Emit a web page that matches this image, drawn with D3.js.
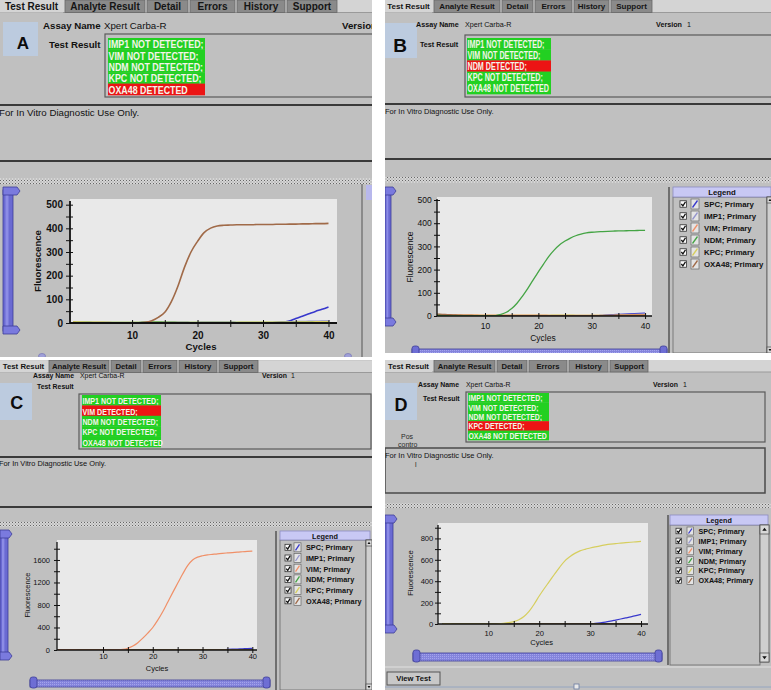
<!DOCTYPE html>
<html><head><meta charset="utf-8">
<script src="https://cdn.jsdelivr.net/npm/d3@7"></script>
<style>
body{margin:0;background:#fff}
svg{display:block}
text{font-family:"Liberation Sans",Arial,sans-serif}
</style>
</head><body>
<svg id="c" width="771" height="690"></svg>
<script>
// ---------------- DATA ----------------
const cycles = [1,2,3,4,5,6,7,8,9,10,11,12,13,14,15,16,17,18,19,20,21,22,23,24,25,26,27,28,29,30,31,32,33,34,35,36,37,38,39,40];
const tabNames = ["Test Result","Analyte Result","Detail","Errors","History","Support"];
const channels = ["SPC","IMP1","VIM","NDM","KPC","OXA48"];
const legendLabels = ["SPC; Primary","IMP1; Primary","VIM; Primary","NDM; Primary","KPC; Primary","OXA48; Primary"];
const panelLetters = ["A","B","C","D"];
const assayName = "Xpert Carba-R";
const versionText = "1";
const ivdText = "For In Vitro Diagnostic Use Only.";
const noteD = ["Pos","contro","l"];

const resultsA = ["IMP1 NOT DETECTED;","VIM NOT DETECTED;","NDM NOT DETECTED;","KPC NOT DETECTED;","OXA48 DETECTED"];
const resultsB = ["IMP1 NOT DETECTED;","VIM NOT DETECTED;","NDM DETECTED;","KPC NOT DETECTED;","OXA48 NOT DETECTED"];
const resultsC = ["IMP1 NOT DETECTED;","VIM DETECTED;","NDM NOT DETECTED;","KPC NOT DETECTED;","OXA48 NOT DETECTED"];
const resultsD = ["IMP1 NOT DETECTED;","VIM NOT DETECTED;","NDM NOT DETECTED;","KPC DETECTED;","OXA48 NOT DETECTED"];

const yTicksAB = [0,100,200,300,400,500];
const yMinorAB = [50,150,250,350,450];
const yTicksC = [0,400,800,1200,1600];
const yMinorC = [200,600,1000,1400,1800];
const yTicksD = [0,200,400,600,800];
const yMinorD = [100,300,500,700,900];
const xTicks = [10,20,30,40];
const xMinor = [15,25,35];

// Panel A (OXA48 positive)
const spcA   = [1,1,0,0,1,1,0,0,1,1, 1,2,2,2,2,2,2,2,1,1, 2,2,2,2,2,1,1,1,1,1, 1,2,4,8,19,29,39,49,58,68];
const imp1A  = [2,2,1,1,1,1,1,1,1,1, 1,1,1,1,1,1,1,1,1,1, 1,1,1,1,1,1,1,1,1,1, 1,2,4,5,6,6,7,7,8,8];
const vimA   = [3,2,2,2,2,2,1,1,1,1, 1,1,1,1,1,1,1,1,1,1, 1,1,1,1,1,1,1,1,1,1, 1,1,1,1,1,1,1,1,1,1];
const ndmA   = [4,3,3,2,2,2,2,2,2,2, 2,3,4,4,3,3,2,2,2,2, 2,2,2,2,2,2,2,2,2,2, 2,2,2,2,2,3,3,4,4,4];
const kpcA   = [5,4,3,3,3,2,2,2,2,2, 2,2,2,2,2,2,2,2,2,2, 2,2,2,2,2,2,3,3,3,3, 3,3,3,3,3,4,4,5,5,5];
const oxa48A = [2,1,1,0,0,0,0,0,0,0, 1,3,10,24,45,90,155,235,300,345, 382,401,410,413,414,415,415,415,416,416, 416,417,417,418,418,419,419,420,420,421];

// Panel B (NDM positive)
const spcB   = [3,3,3,2,2,2,2,1,1,1, 1,1,1,1,1,1,1,1,1,1, 1,1,1,1,1,1,1,1,1,1, 1,3,5,6,7,8,9,10,11,12];
const imp1B  = [2,2,2,2,2,2,1,1,1,1, 1,1,1,1,1,1,1,1,1,1, 1,1,1,1,1,1,1,1,1,1, 1,1,2,3,4,5,6,7,8,9];
const vimB   = [6,6,6,5,5,5,5,5,4,4, 4,4,4,4,4,4,4,4,4,4, 4,3,3,3,3,3,3,3,3,3, 3,3,3,3,4,5,5,6,6,6];
const ndmB   = [3,2,1,0,0,0,0,0,0,0, 0,2,7,16,32,55,85,118,155,190, 225,258,285,307,323,336,346,353,358,361, 363,364,365,366,367,367,368,368,369,369];
const kpcB   = [4,4,3,3,3,3,3,3,3,3, 3,3,3,3,3,3,3,3,3,3, 3,3,4,4,4,4,3,3,3,3, 3,3,3,3,3,3,3,3,3,3];
const oxa48B = [8,7,6,5,4,3,3,2,2,2, 2,2,2,2,2,2,2,2,2,2, 2,2,2,2,2,2,2,2,2,2, 2,2,2,2,3,3,3,3,3,3];

// Panel C (VIM positive)
const spcC   = [2,2,2,2,2,2,2,2,2,2, 2,2,2,2,2,2,2,2,2,2, 2,2,2,2,2,2,2,2,2,2, 2,3,4,6,10,14,18,22,26,30];
const imp1C  = [1,1,1,1,1,1,1,1,1,1, 1,1,1,1,1,1,1,1,1,1, 1,1,1,1,1,1,1,1,1,1, 1,1,1,1,2,2,3,3,4,4];
const vimC   = [2,1,1,1,0,0,0,0,0,0, 0,1,3,10,32,70,130,210,300,400, 530,680,850,1020,1185,1350,1500,1600,1650,1675, 1690,1700,1710,1718,1725,1732,1740,1746,1752,1758];
const ndmC   = [3,3,3,2,2,2,2,2,2,2, 2,2,2,2,2,2,2,2,2,2, 2,2,2,2,2,2,2,2,2,2, 2,2,2,2,2,2,2,2,2,2];
const kpcC   = [4,4,4,3,3,3,3,3,3,3, 3,3,3,3,3,3,3,3,3,3, 3,3,3,3,3,3,3,3,3,3, 3,3,3,3,3,3,3,3,3,3];
const oxa48C = [5,5,4,4,4,4,4,4,4,4, 4,4,4,4,4,4,4,4,4,4, 4,4,4,4,4,4,4,4,4,4, 4,4,4,4,4,4,4,4,4,4];

// Panel D (KPC positive)
const spcD   = [0,0,0,0,0,0,0,0,0,0, 0,0,0,0,0,0,0,0,0,0, 0,0,0,0,0,0,0,0,0,0, 5,11,18,27,37,47,57,67,78,90];
const imp1D  = [1,1,1,1,1,1,1,1,1,1, 1,1,1,1,1,1,1,1,1,1, 1,1,1,1,1,1,1,1,1,1, 1,1,1,1,1,1,1,1,1,1];
const vimD   = [2,2,1,1,1,1,1,1,1,1, 1,1,1,1,1,1,1,1,1,1, 1,1,1,1,1,1,1,1,1,1, 1,1,1,1,1,1,1,1,1,1];
const ndmD   = [1,1,1,1,1,1,1,1,1,1, 1,1,1,1,1,1,1,1,1,1, 1,1,1,1,1,1,1,1,1,1, 1,1,1,1,1,1,1,1,1,1];
const kpcD   = [1,1,0,0,0,0,0,0,0,0, 0,2,6,12,22,40,70,118,185,262, 332,398,465,530,588,628,660,683,698,710, 721,731,739,746,752,756,760,764,768,772];
const oxa48D = [2,2,2,1,1,1,1,1,1,1, 1,1,1,1,1,1,1,1,1,1, 1,1,1,1,1,1,1,1,1,1, 1,1,1,1,1,1,1,1,1,1];

// ---------------- STYLE / LAYOUT ----------------
const chColors = ["#3838cc","#9494cc","#f09068","#44a444","#d6ce5e","#a06a48"];
const GRAY = "#c0c0c0";

const LAYOUT = [
 { x0:0, y0:0, w:372, h:357,
   tabY:0, tabH:12.5, tabFs:10, tabs:[[0,63],[65,145],[147,188],[190,235],[237,285],[287,337]],
   box:[3,22,35,34], letterXY:[23,43], letterFs:17,
   fs:9.7, assayXY:[43,25], xpertX:104, verX:342, verNumX:388, testXY:[49,44],
   resBox:[105,34,300,63], rows:[108,38,97,11.4], rowFs:11, rowTW:95,
   seps:[105,161], ivdXY:[-1,112], ivdFs:9.7, ivdBox:null, split:[178,184],
   vsl:[3,10,187,334,7],
   chart:{x:70,y:199,w:267,h:124,xd:[0.52,41.3],yd:[0,524],fs:10,bold:true,lw:1.6,ts:4,tpx:4.8,tpy:3,axisW:1.8,labFs:9.6,ylab:[37,261],xlab:[201,346]},
   legend:null, hsl:null },
 { x0:385, y0:0, w:386, h:353,
   tabY:0, tabH:12.5, tabFs:8, tabs:[[385,432],[434,500],[502,533],[535,572],[574,609],[611,652]],
   box:[385,23,32,35], letterXY:[400,45], letterFs:19,
   fs:7.2, assayXY:[416,24.5], xpertX:465, verX:656, verNumX:687, testXY:[420,44.3],
   resBox:[465,35,320,62], rows:[467,38,84,11.2], rowFs:10, rowTW:77,
   seps:[104,159], ivdXY:[385,111], ivdFs:7.5, ivdBox:null, split:[177,183],
   vsl:[385,6,187,326,5],
   chart:{x:437,y:197,w:215,h:119,xd:[1.0,41.3],yd:[0,513],fs:8.5,bold:false,lw:1.3,ts:3,tpx:4.3,tpy:2.3,axisW:1.4,labFs:8.5,ylab:[410,257],xlab:[543,337.5]},
   legend:{x:673,y:187,w:94,hw:98,hdrH:10,bottom:353,sep:669,rowY:204,step:12,cb:680,cbs:6.5,sw:691,sww:8,swh:10,tx:704,fs:7.8,scroll:[767,197,353,6]},
   hsl:[412,667,348,7] },
 { x0:0, y0:360, w:372, h:330,
   tabY:360.5, tabH:12, tabFs:7.8, tabs:[[0,47],[49,109],[111,141],[143,177],[179,217],[219,258]],
   box:[0,383,32,37], letterXY:[16.7,402.5], letterFs:18,
   fs:6.9, assayXY:[33,375], xpertX:80, verX:262, verNumX:291, testXY:[37,386.7],
   resBox:[79,394,292,55], rows:[82,395,79,10.4], rowFs:9.5, rowTW:76,
   seps:[457,507], ivdXY:[-1,463.5], ivdFs:7.4, ivdBox:null, split:[522,527],
   vsl:[0,8,530,660,4],
   chart:{x:57,y:540,w:200,h:110,xd:[0.76,40.94],yd:[0,1955],fs:7.5,bold:false,lw:1.2,ts:3,tpx:1,tpy:4,axisW:1.3,labFs:7.5,ylab:[27,595],xlab:[157,668.5]},
   legend:{x:280,y:531,w:86,hw:90,hdrH:9,bottom:690,sep:276,rowY:547.3,step:10.7,cb:285,cbs:6,sw:294,sww:7,swh:9,tx:306,fs:7.3,scroll:[366,540,690,6]},
   hsl:[30,270,679,9] },
 { x0:385, y0:360, w:386, h:330,
   tabY:360, tabH:12, tabFs:7.7, tabs:[[385,432],[434,495],[497,527],[529,567],[569,608],[610,648]],
   box:[385,383,32,37], letterXY:[401,405], letterFs:18,
   fs:6.9, assayXY:[418,384.3], xpertX:466, verX:653, verNumX:683, testXY:[423,398.3],
   resBox:[466,392,299,50], rows:[468,393,81,9.4], rowFs:9, rowTW:74,
   seps:[], ivdXY:[385,455], ivdFs:7.5, ivdBox:[385,448,380,45], split:[503,508],
   vsl:[385,8,515,633,4],
   chart:{x:438,y:523,w:210,h:101,xd:[0.12,41.37],yd:[0,944],fs:7.6,bold:false,lw:1.2,ts:3,tpx:3.4,tpy:1.7,axisW:1.3,labFs:7.6,ylab:[410,573],xlab:[541.7,642]},
   legend:{x:670,y:515,w:90,hw:98,hdrH:10,bottom:665,sep:668,rowY:531,step:9.9,cb:676,cbs:5.5,sw:687,sww:6.5,swh:8,tx:698.5,fs:7.2,scroll:[760,525,662,9]},
   hsl:[413,662,652,10] }
];

const PANELS = [
  {results:resultsA, series:[spcA,imp1A,vimA,ndmA,kpcA,oxa48A], yTicks:yTicksAB, yMinor:yMinorAB},
  {results:resultsB, series:[spcB,imp1B,vimB,ndmB,kpcB,oxa48B], yTicks:yTicksAB, yMinor:yMinorAB},
  {results:resultsC, series:[spcC,imp1C,vimC,ndmC,kpcC,oxa48C], yTicks:yTicksC, yMinor:yMinorC},
  {results:resultsD, series:[spcD,imp1D,vimD,ndmD,kpcD,oxa48D], yTicks:yTicksD, yMinor:yMinorD}
];

// ---------------- DRAW ----------------
const svg = d3.select("#c");
const defs = svg.append("defs");
const hatch = defs.append("pattern").attr("id","hatch").attr("width",3).attr("height",3).attr("patternUnits","userSpaceOnUse");
hatch.append("rect").attr("width",3).attr("height",3).attr("fill","#d6d6d6");
hatch.append("rect").attr("width",1).attr("height",1).attr("fill","#666");
hatch.append("rect").attr("x",1.5).attr("y",1.5).attr("width",1).attr("height",1).attr("fill","#8c8c8c");
const slp = defs.append("pattern").attr("id","slp").attr("width",2).attr("height",2).attr("patternUnits","userSpaceOnUse");
slp.append("rect").attr("width",2).attr("height",2).attr("fill","#8484dc");
slp.append("rect").attr("width",1).attr("height",1).attr("fill","#a4a4ec");

function txt(g, x, y, s, fs, o) {
  o = o || {};
  return g.append("text").attr("x",x).attr("y",y).attr("font-size",fs)
    .attr("font-weight",o.bold?"bold":"normal").attr("fill",o.fill||"#111")
    .attr("text-anchor",o.anchor||"start").attr("dominant-baseline","central").text(s);
}

function vslider(g, x, w, y1, y2, ext) {
  const th = 8;
  g.append("rect").attr("x",x).attr("y",y1+3).attr("width",w).attr("height",y2-y1-6)
    .attr("fill","#6a6ad2").attr("stroke","#3e3e98").attr("stroke-width",0.8);
  g.append("rect").attr("x",x+w*0.25).attr("y",y1+th).attr("width",Math.max(1.5,w*0.3)).attr("height",y2-y1-2*th).attr("fill","#8c8ce6");
  [y1, y2-th].forEach(ty => {
    g.append("path").attr("d",`M${x},${ty} H${x+w+ext-3} L${x+w+ext},${ty+th/2} L${x+w+ext-3},${ty+th} H${x} Z`)
      .attr("fill","#7a7ade").attr("stroke","#3e3e98").attr("stroke-width",0.8);
  });
}

function hslider(g, x1, x2, y, h) {
  g.append("rect").attr("x",x1).attr("y",y+1).attr("width",x2-x1).attr("height",h-2)
    .attr("fill","url(#slp)").attr("stroke","#3e3e98").attr("stroke-width",0.8);
  [x1, x2-7].forEach(hx => {
    g.append("rect").attr("x",hx).attr("y",y-2).attr("width",7).attr("height",h+2).attr("rx",2.5)
      .attr("fill","#6e6ed4").attr("stroke","#3e3e98").attr("stroke-width",0.8);
  });
}

function scrollbar(g, x, y1, y2, w) {
  g.append("rect").attr("x",x).attr("y",y1).attr("width",w).attr("height",y2-y1).attr("fill","#cfcfcf").attr("stroke","#555").attr("stroke-width",0.8);
  g.append("rect").attr("x",x).attr("y",y1).attr("width",w).attr("height",w).attr("fill","#d8d8d8").attr("stroke","#555").attr("stroke-width",0.8);
  g.append("path").attr("d",`M${x+w/2},${y1+w*0.3} L${x+w*0.75},${y1+w*0.65} L${x+w*0.25},${y1+w*0.65} Z`).attr("fill","#111");
  g.append("rect").attr("x",x).attr("y",y2-w).attr("width",w).attr("height",w).attr("fill","#d8d8d8").attr("stroke","#555").attr("stroke-width",0.8);
  g.append("path").attr("d",`M${x+w/2},${y2-w*0.3} L${x+w*0.75},${y2-w*0.65} L${x+w*0.25},${y2-w*0.65} Z`).attr("fill","#111");
}

function legend(g, Lg) {
  g.append("line").attr("x1",Lg.sep).attr("x2",Lg.sep).attr("y1",Lg.y).attr("y2",Lg.bottom).attr("stroke","#555").attr("stroke-width",1.5);
  g.append("rect").attr("x",Lg.x).attr("y",Lg.y+Lg.hdrH).attr("width",Lg.w).attr("height",Lg.bottom-Lg.y-Lg.hdrH)
    .attr("fill",GRAY).attr("stroke","#6a6a6a").attr("stroke-width",0.8);
  g.append("rect").attr("x",Lg.x).attr("y",Lg.y).attr("width",Lg.hw).attr("height",Lg.hdrH)
    .attr("fill","#c8c8f4").attr("stroke","#8c8cc0").attr("stroke-width",0.8);
  txt(g, Lg.x + Lg.hw/2, Lg.y + Lg.hdrH/2 + 0.5, "Legend", Lg.fs, {bold:true, anchor:"middle"});
  legendLabels.forEach((t,k) => {
    const cy = Lg.rowY + k*Lg.step;
    const s = Lg.cbs;
    g.append("rect").attr("x",Lg.cb).attr("y",cy-s/2).attr("width",s).attr("height",s).attr("fill","#fafafa").attr("stroke","#333").attr("stroke-width",0.8);
    g.append("path").attr("d",`M${Lg.cb+s*0.2},${cy} L${Lg.cb+s*0.45},${cy+s*0.3} L${Lg.cb+s*0.85},${cy-s*0.35}`)
      .attr("fill","none").attr("stroke","#111").attr("stroke-width",1.3);
    g.append("rect").attr("x",Lg.sw).attr("y",cy-Lg.swh/2).attr("width",Lg.sww).attr("height",Lg.swh)
      .attr("fill","#e4e4e4").attr("stroke","#666").attr("stroke-width",0.7);
    g.append("line").attr("x1",Lg.sw+1.5).attr("y1",cy+Lg.swh/2-1.5).attr("x2",Lg.sw+Lg.sww-1.5).attr("y2",cy-Lg.swh/2+1.5)
      .attr("stroke",chColors[k]).attr("stroke-width",1.3);
    txt(g, Lg.tx, cy+0.3, t, Lg.fs, {bold:true});
  });
  if (Lg.scroll) scrollbar(g, Lg.scroll[0], Lg.scroll[1], Lg.scroll[2], Lg.scroll[3]);
}

function drawChart(g, C, P, idx) {
  const x = d3.scaleLinear().domain(C.xd).range([C.x, C.x + C.w]);
  const y = d3.scaleLinear().domain(C.yd).range([C.y + C.h, C.y]);
  g.append("rect").attr("x",C.x).attr("y",C.y).attr("width",C.w).attr("height",C.h).attr("fill","#e9e9e9");
  const cp = "plotclip" + idx;
  defs.append("clipPath").attr("id",cp).append("rect").attr("x",C.x).attr("y",C.y-2).attr("width",C.w).attr("height",C.h+2);
  const lg = g.append("g").attr("clip-path",`url(#${cp})`);
  const line = d3.line().x((d,k) => x(cycles[k])).y(d => y(d)).curve(d3.curveMonotoneX);
  const pos = P.results.findIndex(r => r.indexOf("NOT") < 0) + 1;
  const order = channels.map((c,k) => k).filter(k => k !== pos).concat([pos]);
  order.forEach(k => {
    lg.append("path").datum(P.series[k]).attr("d",line).attr("fill","none")
      .attr("stroke",chColors[k]).attr("stroke-width",C.lw).attr("stroke-linejoin","round");
  });
  const styleAxis = a => {
    a.select(".domain").remove();
    a.selectAll("line").attr("stroke","#111").attr("stroke-width",1);
    a.selectAll("text").attr("font-family","Liberation Sans, Arial, sans-serif").attr("font-size",C.fs)
      .attr("font-weight",C.bold ? "bold" : "normal").attr("fill","#111");
  };
  const ya = g.append("g").attr("transform",`translate(${C.x},0)`)
    .call(d3.axisLeft(y).tickValues(P.yTicks).tickSize(C.ts).tickPadding(C.tpy).tickFormat(d3.format("d")));
  styleAxis(ya);
  const ym = g.append("g").attr("transform",`translate(${C.x},0)`)
    .call(d3.axisLeft(y).tickValues(P.yMinor.filter(v => v <= C.yd[1])).tickSize(C.ts).tickFormat(""));
  styleAxis(ym);
  const yi = g.append("g").attr("transform",`translate(${C.x},0)`)
    .call(d3.axisLeft(y).tickValues(P.yTicks.concat(P.yMinor).filter(v => v > 0 && v <= C.yd[1])).tickSize(-3).tickFormat(""));
  styleAxis(yi);
  const xa = g.append("g").attr("transform",`translate(0,${C.y+C.h})`)
    .call(d3.axisBottom(x).tickValues(xTicks).tickSize(C.ts).tickPadding(C.tpx).tickFormat(d3.format("d")));
  styleAxis(xa);
  const xm = g.append("g").attr("transform",`translate(0,${C.y+C.h})`)
    .call(d3.axisBottom(x).tickValues(xMinor).tickSize(C.ts).tickFormat(""));
  styleAxis(xm);
  const xi = g.append("g").attr("transform",`translate(0,${C.y+C.h})`)
    .call(d3.axisBottom(x).tickValues(xTicks.concat(xMinor)).tickSize(-3).tickFormat(""));
  styleAxis(xi);
  g.append("line").attr("x1",C.x).attr("x2",C.x).attr("y1",y(C.yd[1])+2).attr("y2",C.y+C.h).attr("stroke","#111").attr("stroke-width",C.axisW);
  g.append("line").attr("x1",C.x).attr("x2",C.x+C.w).attr("y1",C.y+C.h).attr("y2",C.y+C.h).attr("stroke","#111").attr("stroke-width",C.axisW);
  txt(g, C.ylab[0], C.ylab[1], "Fluorescence", C.labFs, {bold:C.bold, anchor:"middle"})
    .attr("transform",`rotate(-90,${C.ylab[0]},${C.ylab[1]})`);
  txt(g, C.xlab[0], C.xlab[1], "Cycles", C.labFs, {bold:C.bold, anchor:"middle"});
}

LAYOUT.forEach((L, i) => {
  const P = PANELS[i];
  const cid = "pclip" + i;
  defs.append("clipPath").attr("id",cid).append("rect").attr("x",L.x0).attr("y",L.y0).attr("width",L.w).attr("height",L.h);
  const g = svg.append("g").attr("clip-path",`url(#${cid})`);
  g.append("rect").attr("x",L.x0).attr("y",L.y0).attr("width",L.w).attr("height",L.h).attr("fill",GRAY);

  // tab bar
  g.append("rect").attr("x",L.x0).attr("y",L.tabY).attr("width",L.w).attr("height",L.tabH).attr("fill","#d4d4d4");
  g.append("line").attr("x1",L.x0).attr("x2",L.x0+L.w).attr("y1",L.tabY+L.tabH).attr("y2",L.tabY+L.tabH).attr("stroke","#9a9a9a");
  tabNames.forEach((t,k) => {
    const [a,b] = L.tabs[k];
    g.append("rect").attr("x",a).attr("y",L.tabY).attr("width",b-a).attr("height",L.tabH)
      .attr("fill", k === 0 ? "#d4d4d4" : "#8a8a8a").attr("stroke", k === 0 ? "none" : "#666").attr("stroke-width",0.8);
    txt(g, (a+b)/2, L.tabY + L.tabH/2 + 0.3, t, L.tabFs, {bold:true, anchor:"middle", fill:"#151515"});
  });

  // letter box
  g.append("rect").attr("x",L.box[0]).attr("y",L.box[1]).attr("width",L.box[2]).attr("height",L.box[3]).attr("fill","#bccbdf");
  txt(g, L.letterXY[0], L.letterXY[1], panelLetters[i], L.letterFs, {bold:true, anchor:"middle", fill:"#0c0c0c"});

  // header texts
  txt(g, L.assayXY[0], L.assayXY[1], "Assay Name", L.fs, {bold:true});
  txt(g, L.xpertX, L.assayXY[1], assayName, L.fs);
  txt(g, L.verX, L.assayXY[1], "Version", L.fs, {bold:true});
  txt(g, L.verNumX, L.assayXY[1], versionText, L.fs);
  txt(g, L.testXY[0], L.testXY[1], "Test Result", L.fs, {bold:true});

  // result box
  g.append("rect").attr("x",L.resBox[0]).attr("y",L.resBox[1]).attr("width",L.resBox[2]).attr("height",L.resBox[3])
    .attr("fill",GRAY).attr("stroke","#5a5a5a").attr("stroke-width",1.2);
  const rowTexts = [];
  P.results.forEach((t,k) => {
    const ry = L.rows[1] + k*L.rows[3];
    const det = t.indexOf("NOT") < 0;
    g.append("rect").attr("x",L.rows[0]).attr("y",ry).attr("width",L.rows[2]).attr("height",L.rows[3]+0.3)
      .attr("fill", det ? "#ec1414" : "#22d022");
    rowTexts.push(txt(g, L.rows[0]+0.5, ry + L.rows[3]/2 + 0.4, t, L.rowFs, {bold:true, fill:"#f4f4ea"}));
  });
  const nat = rowTexts[0].node().getComputedTextLength();
  const f = L.rowTW / nat;
  rowTexts.forEach(s => {
    const n = s.node().getComputedTextLength();
    s.attr("textLength", n*f).attr("lengthAdjust","spacingAndGlyphs");
  });

  // separators and IVD text
  L.seps.forEach(sy => {
    g.append("line").attr("x1",L.x0).attr("x2",L.x0+L.w).attr("y1",sy).attr("y2",sy).attr("stroke","#3a3a3a").attr("stroke-width",2);
  });
  if (L.ivdBox) {
    g.append("rect").attr("x",L.ivdBox[0]).attr("y",L.ivdBox[1]).attr("width",L.ivdBox[2]).attr("height",L.ivdBox[3])
      .attr("fill",GRAY).attr("stroke","#4a4a4a").attr("stroke-width",1.5);
    txt(g, 401, 436.5, noteD[0], 7, {fill:"#2a2a2a"});
    txt(g, 398, 444.5, noteD[1], 7, {fill:"#2a2a2a"});
    txt(g, 415, 464, noteD[2], 7, {fill:"#2a2a2a"});
  }
  txt(g, L.ivdXY[0], L.ivdXY[1], ivdText, L.ivdFs);

  // splitter band
  g.append("rect").attr("x",L.x0).attr("y",L.split[0]).attr("width",L.w).attr("height",L.split[1]-L.split[0]).attr("fill","url(#hatch)");

  // left slider
  vslider(g, L.vsl[0], L.vsl[1], L.vsl[2], L.vsl[3], L.vsl[4]);

  // chart
  drawChart(g, L.chart, P, i);

  if (L.legend) legend(g, L.legend);
  if (L.hsl) hslider(g, L.hsl[0], L.hsl[1], L.hsl[2], L.hsl[3]);

  if (i === 0) {
    g.append("line").attr("x1",362).attr("x2",362).attr("y1",184).attr("y2",357).attr("stroke","#666").attr("stroke-width",1.2);
    g.append("rect").attr("x",366).attr("y",185).attr("width",6).attr("height",15).attr("fill","#b8b8ec");
    [42,348].forEach(bx => g.append("ellipse").attr("cx",bx).attr("cy",356).attr("rx",3.5).attr("ry",2.5).attr("fill","#a0a0d8").attr("stroke","#6a6ab0").attr("stroke-width",0.6));
  }
  if (i === 3) {
    g.append("line").attr("x1",385).attr("x2",771).attr("y1",667).attr("y2",667).attr("stroke","#e0e0e0").attr("stroke-width",1);
    g.append("rect").attr("x",387).attr("y",672).attr("width",53).attr("height",13).attr("fill","#c8c8c8").attr("stroke","#555").attr("stroke-width",1);
    txt(g, 413.5, 678.7, "View Test", 7.6, {bold:true, anchor:"middle"});
    g.append("line").attr("x1",385).attr("x2",771).attr("y1",687).attr("y2",687).attr("stroke","#8aa0c0").attr("stroke-width",0.8);
    g.append("rect").attr("x",574).attr("y",684).attr("width",5).attr("height",5).attr("fill","#e8e8e8").attr("stroke","#6a7aa0").attr("stroke-width",0.8);
  }
});
</script>
</body></html>
